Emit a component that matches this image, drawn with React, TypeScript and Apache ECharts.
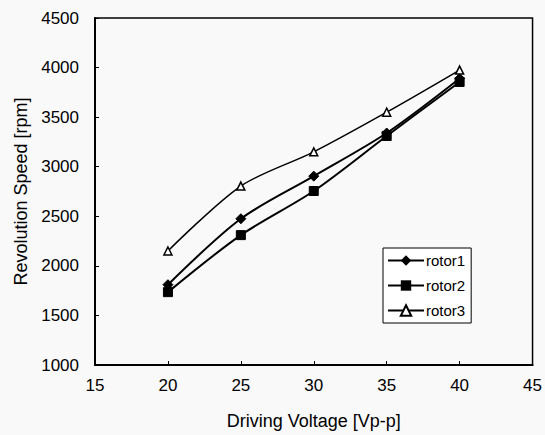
import React, { useEffect, useRef } from "react";
import * as echarts from "echarts";

const voltages = [20, 25, 30, 35, 40];
const rotor1 = [1810, 2475, 2905, 3340, 3890];
const rotor2 = [1735, 2310, 2755, 3310, 3855];
const rotor3 = [2150, 2805, 3150, 3550, 3975];
const seriesNames = ["rotor1", "rotor2", "rotor3"];

const FONT = "Liberation Sans";

export default function App() {
  const ref = useRef<HTMLDivElement>(null);
  useEffect(() => {
    if (!ref.current) return;
    const chart = echarts.init(ref.current, undefined, { renderer: "svg" });
    const toPairs = (arr: number[]) => voltages.map((v, i) => [v, arr[i]]);
    chart.setOption({
      animation: false,
      backgroundColor: "#f9f9f9",
      textStyle: { fontFamily: FONT, color: "#000" },
      grid: {
        left: 95,
        right: 11,
        top: 18,
        bottom: 68,
        show: true,
        borderColor: "#000",
        borderWidth: 1.5,
        backgroundColor: "transparent",
      },
      legend: {
        orient: "vertical",
        left: 383,
        top: 248,
        padding: [5, 6, 5, 4],
        itemGap: 10,
        itemWidth: 36,
        itemHeight: 13,
        borderColor: "#000",
        borderWidth: 1,
        backgroundColor: "#fff",
        textStyle: { fontFamily: FONT, fontSize: 15, color: "#000", padding: [0, 0, 0, -3] },
        data: seriesNames,
      },
      xAxis: {
        type: "value",
        min: 15,
        max: 45,
        interval: 5,
        name: "Driving Voltage [Vp-p]",
        nameLocation: "middle",
        nameGap: 47,
        nameTextStyle: { fontFamily: FONT, fontSize: 18, color: "#000" },
        axisLine: { show: true, lineStyle: { color: "#000", width: 2 } },
        axisTick: { show: true, inside: true, length: 4, lineStyle: { color: "#000" } },
        axisLabel: { fontFamily: FONT, fontSize: 17, color: "#000", margin: 12 },
        splitLine: { show: false },
      },
      yAxis: {
        type: "value",
        min: 1000,
        max: 4500,
        interval: 500,
        name: "Revolution Speed [rpm]",
        nameLocation: "middle",
        nameGap: 64,
        nameTextStyle: { fontFamily: FONT, fontSize: 18, color: "#000" },
        axisLine: { show: true, lineStyle: { color: "#000", width: 2 } },
        axisTick: { show: true, inside: true, length: 4, lineStyle: { color: "#000" } },
        axisLabel: {
          fontFamily: FONT,
          fontSize: 17,
          color: "#000",
          margin: 16,
          formatter: (v: number) => String(v),
        },
        splitLine: { show: false },
      },
      series: [
        {
          name: seriesNames[0],
          type: "line",
          data: toPairs(rotor1),
          smooth: 0.3,
          symbol: "diamond",
          symbolSize: 10,
          lineStyle: { color: "#000", width: 2 },
          itemStyle: { color: "#000", borderColor: "#000" },
        },
        {
          name: seriesNames[1],
          type: "line",
          data: toPairs(rotor2),
          smooth: 0.3,
          symbol: "rect",
          symbolSize: 9,
          lineStyle: { color: "#000", width: 2 },
          itemStyle: { color: "#000", borderColor: "#000" },
        },
        {
          name: seriesNames[2],
          type: "line",
          data: toPairs(rotor3),
          smooth: 0.3,
          symbol: "triangle",
          symbolSize: 8,
          lineStyle: { color: "#000", width: 1.5 },
          itemStyle: { color: "#fff", borderColor: "#000", borderWidth: 1.5 },
        },
      ],
    });
    return () => chart.dispose();
  }, []);
  return <div ref={ref} style={{ width: 545, height: 435, position: "absolute", left: 0, top: 0 }} />;
}
